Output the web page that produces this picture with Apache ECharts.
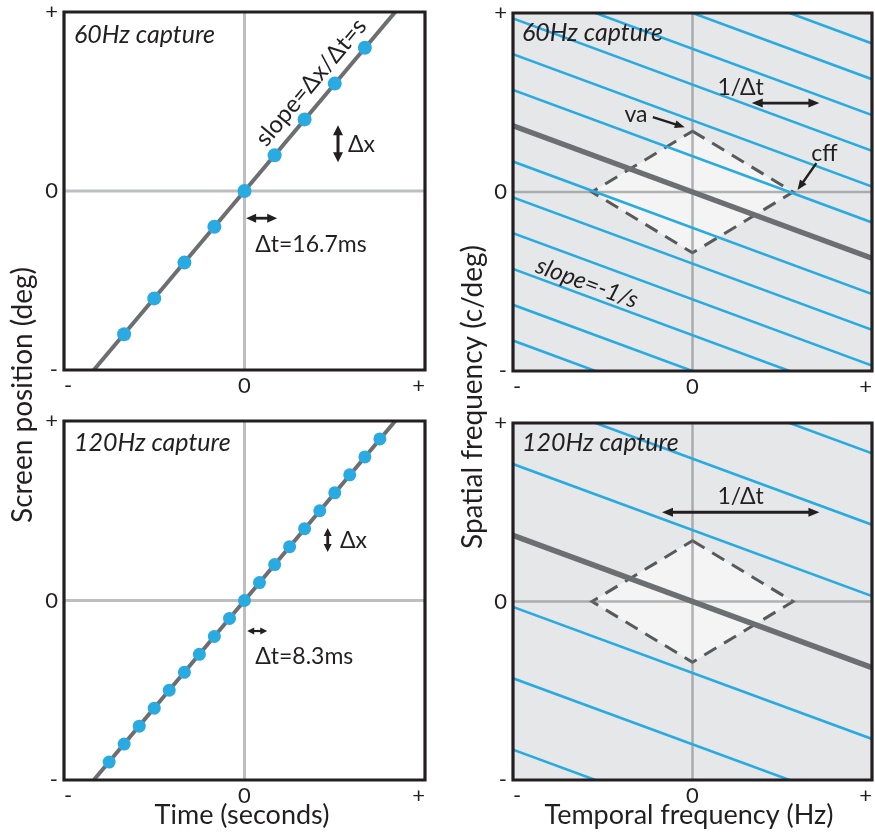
<!DOCTYPE html>
<html><head><meta charset="utf-8">
<script src="https://cdn.jsdelivr.net/npm/echarts@6/dist/echarts.min.js"></script>
<style>html,body{margin:0;padding:0;background:#fff}#c{width:875px;height:836px}</style>
</head><body><div id="c"></div>
<script>
// ---------------- data ----------------
const captureLabels = ['60Hz capture', '120Hz capture'];
const tickLabels = ['-', '0', '+'];
const tickValues = [-1, 0, 1];
// sampled positions of the moving object (normalised units)
const time60 = [-0.667, -0.5, -0.333, -0.167, 0, 0.167, 0.333, 0.5, 0.667];
const pos60  = [-0.8, -0.6, -0.4, -0.2, 0, 0.2, 0.4, 0.6, 0.8];
const time120 = [-0.75, -0.667, -0.583, -0.5, -0.417, -0.333, -0.25, -0.167, -0.083, 0,
                 0.083, 0.167, 0.25, 0.333, 0.417, 0.5, 0.583, 0.667, 0.75];
const pos120  = [-0.9, -0.8, -0.7, -0.6, -0.5, -0.4, -0.3, -0.2, -0.1, 0,
                 0.1, 0.2, 0.3, 0.4, 0.5, 0.6, 0.7, 0.8, 0.9];
// continuous motion trajectory
const motionTime = [-0.835, 0.835];
const motionPos  = [-1, 1];
// spectrum of the continuous motion
const signalTF = [-1, 1];
const signalSF = [0.37, -0.37];
const replicaSlope = -0.37;
// spatial-frequency intercepts (at 0 Hz) of aliased replicas
const replicas60  = [-1.2, -1.0, -0.8, -0.6, -0.4, -0.2, 0.2, 0.4, 0.6, 0.8, 1.0, 1.2];
const replicas120 = [-1.2, -0.8, -0.4, 0.4, 0.8, 1.2];
// window of visibility (diamond)
const windowTF = [0, 0.56, 0, -0.56];
const windowSF = [0.34, 0, -0.34, 0];

// ---------------- styling ----------------
const FONT = 'Lato, "Noto Sans", sans-serif';
const INK = '#231f20';
const BLUE = '#29abe2';
const DARK = '#6d6e71';

const grids = [
  {left: 64, top: 12, width: 361, height: 358},
  {left: 64, top: 421, width: 361, height: 359},
  {left: 513, top: 13, width: 360, height: 358, show: true, backgroundColor: '#e6e7e8', borderWidth: 0},
  {left: 513, top: 423, width: 360, height: 357, show: true, backgroundColor: '#e6e7e8', borderWidth: 0}
];

function fmt(v) { return tickLabels[tickValues.indexOf(Math.round(v))]; }
function axis(gi, isX) {
  return {
    type: 'value', gridIndex: gi, min: -1, max: 1, interval: 1,
    axisLine: {show: false}, axisTick: {show: false}, splitLine: {show: false},
    axisLabel: {formatter: fmt, fontSize: 22, color: INK, fontFamily: FONT, margin: isX ? 5 : 6,
      alignMinLabel: isX ? 'left' : undefined, alignMaxLabel: isX ? 'right' : undefined}
  };
}

function frameSeries(gi) {
  return {type: 'custom', xAxisIndex: gi, yAxisIndex: gi, z: 20, silent: true, data: [[0, 0]],
    renderItem: (p, api) => {
      const a = api.coord([-1, 1]), b = api.coord([1, -1]);
      return {type: 'rect', shape: {x: a[0], y: a[1], width: b[0] - a[0], height: b[1] - a[1]},
        style: {fill: 'none', stroke: INK, lineWidth: 3.2}};
    }};
}
function segSeries(gi, data, color, width, z) {
  return {type: 'line', xAxisIndex: gi, yAxisIndex: gi, data: data, z: z, silent: true,
    symbol: 'none', showSymbol: false, animation: false, clip: true,
    lineStyle: {color: color, width: width, cap: 'butt'}};
}
function zeroSeries(gi, color, width, z) {
  return [segSeries(gi, [[-1, 0], [1, 0]], color, width, z), segSeries(gi, [[0, -1], [0, 1]], color, width, z)];
}
function replicaSeries(gi, intercepts) {
  return {type: 'custom', xAxisIndex: gi, yAxisIndex: gi, z: 5, silent: true, clip: true,
    data: intercepts.map(b => [0, b]),
    renderItem: (p, api) => {
      const b = api.value(1);
      const p1 = api.coord([-1, b - replicaSlope]);
      const p2 = api.coord([1, b + replicaSlope]);
      return {type: 'line', shape: {x1: p1[0], y1: p1[1], x2: p2[0], y2: p2[1]},
        style: {stroke: BLUE, lineWidth: 2.6}};
    }};
}
function windowSeries(gi) {
  return {type: 'custom', xAxisIndex: gi, yAxisIndex: gi, z: 2, silent: true,
    data: [[windowTF[0], windowSF[0]]],
    renderItem: (p, api) => {
      const pts = windowTF.map((x, i) => api.coord([x, windowSF[i]]));
      return {type: 'group', children: [
        {type: 'polygon', shape: {points: pts}, style: {fill: '#f4f4f4'}},
        {type: 'polygon', shape: {points: pts}, style: {fill: 'none', stroke: '#58595b', lineWidth: 3, lineDash: [14, 9]}}
      ]};
    }};
}
function headPts(tip, from, L, W) {
  const dx = tip[0] - from[0], dy = tip[1] - from[1];
  const d = Math.hypot(dx, dy) || 1;
  const ux = dx / d, uy = dy / d, nx = -uy, ny = ux;
  const bx = tip[0] - ux * L, by = tip[1] - uy * L;
  return [tip, [bx + nx * W / 2, by + ny * W / 2], [bx - nx * W / 2, by - ny * W / 2]];
}
function annoSeries(gi, items) {
  return {type: 'custom', xAxisIndex: gi, yAxisIndex: gi, z: 30, silent: true, clip: false,
    data: items.map(it => [it.pos[0], it.pos[1]]),
    renderItem: (p, api) => {
      const it = items[p.dataIndex];
      if (it.kind === 'text') {
        const c = api.coord([api.value(0), api.value(1)]);
        return {type: 'text', x: c[0], y: c[1], rotation: (it.rot || 0) * Math.PI / 180,
          style: {text: it.text, fill: INK, fontFamily: FONT, fontSize: it.size || 23,
            fontStyle: it.italic ? 'italic' : 'normal', align: it.align || 'left', verticalAlign: 'middle'}};
      }
      const a = api.coord([it.pos[0], it.pos[1]]);
      const b = api.coord([it.pos[2], it.pos[3]]);
      const L = it.head || 9, W = it.headW || 8, lw = it.lw || 2.5;
      const children = [];
      const dx = b[0] - a[0], dy = b[1] - a[1], d = Math.hypot(dx, dy);
      const ux = dx / d, uy = dy / d;
      const s = it.both ? [a[0] + ux * L * 0.8, a[1] + uy * L * 0.8] : a;
      const e = [b[0] - ux * L * 0.8, b[1] - uy * L * 0.8];
      children.push({type: 'line', shape: {x1: s[0], y1: s[1], x2: e[0], y2: e[1]}, style: {stroke: INK, lineWidth: lw}});
      children.push({type: 'polygon', shape: {points: headPts(b, a, L, W)}, style: {fill: INK}});
      if (it.both) children.push({type: 'polygon', shape: {points: headPts(a, b, L, W)}, style: {fill: INK}});
      return {type: 'group', children: children};
    }};
}

const annoTL = [
  {kind: 'text', text: captureLabels[0], pos: [-0.945, 0.872], italic: true, size: 25},
  {kind: 'text', text: 'slope=Δx/Δt=s', pos: [0.369, 0.607], rot: 50, align: 'center', size: 24},
  {kind: 'arrow', pos: [0.518, 0.367, 0.518, 0.161], both: true, lw: 3, head: 10, headW: 10},
  {kind: 'text', text: 'Δx', pos: [0.573, 0.262], size: 23},
  {kind: 'arrow', pos: [0.009, -0.152, 0.181, -0.152], both: true, lw: 2.8, head: 10, headW: 9},
  {kind: 'text', text: 'Δt=16.7ms', pos: [0.059, -0.302], size: 23}
];
const annoBL = [
  {kind: 'text', text: captureLabels[1], pos: [-0.945, 0.877], italic: true, size: 25},
  {kind: 'arrow', pos: [0.461, 0.404, 0.461, 0.27], both: true, lw: 2.8, head: 8, headW: 8},
  {kind: 'text', text: 'Δx', pos: [0.529, 0.332], size: 23},
  {kind: 'arrow', pos: [0.015, -0.17, 0.126, -0.17], both: true, lw: 2.2, head: 7, headW: 7},
  {kind: 'text', text: 'Δt=8.3ms', pos: [0.059, -0.315], size: 23}
];
const annoTR = [
  {kind: 'text', text: captureLabels[0], pos: [-0.95, 0.887], italic: true, size: 25},
  {kind: 'text', text: '1/Δt', pos: [0.268, 0.586], align: 'center', size: 23},
  {kind: 'arrow', pos: [0.33, 0.497, 0.707, 0.497], both: true, lw: 2.8, head: 11, headW: 9},
  {kind: 'text', text: 'va', pos: [-0.315, 0.43], align: 'center', size: 23},
  {kind: 'arrow', pos: [-0.221, 0.418, -0.043, 0.362], lw: 2.4, head: 10, headW: 8},
  {kind: 'text', text: 'cff', pos: [0.735, 0.217], align: 'center', size: 23},
  {kind: 'arrow', pos: [0.69, 0.161, 0.585, 0.011], lw: 2.4, head: 10, headW: 8},
  {kind: 'text', text: 'slope=-1/s', pos: [-0.587, -0.509], rot: -20, align: 'center', italic: true, size: 24}
];
const annoBR = [
  {kind: 'text', text: captureLabels[1], pos: [-0.95, 0.887], italic: true, size: 25},
  {kind: 'text', text: '1/Δt', pos: [0.268, 0.585], align: 'center', size: 23},
  {kind: 'arrow', pos: [-0.17, 0.5, 0.707, 0.5], both: true, lw: 2.8, head: 11, headW: 9}
];

function zip(a, b) { return a.map((v, i) => [v, b[i]]); }

const series = [];
// left: time domain
[[0, time60, pos60, 14, annoTL], [1, time120, pos120, 13, annoBL]].forEach(([gi, t, x, sz, an]) => {
  series.push(...zeroSeries(gi, '#bcbec0', 3, 1));
  series.push(segSeries(gi, zip(motionTime, motionPos), DARK, 4, 3));
  series.push({type: 'scatter', xAxisIndex: gi, yAxisIndex: gi, data: zip(t, x), z: 4, silent: true,
    symbol: 'circle', symbolSize: sz, itemStyle: {color: BLUE, opacity: 1}});
  series.push(annoSeries(gi, an));
  series.push(frameSeries(gi));
});
// right: frequency domain
[[2, replicas60, annoTR], [3, replicas120, annoBR]].forEach(([gi, reps, an]) => {
  series.push(windowSeries(gi));
  series.push(...zeroSeries(gi, 'rgba(110,112,115,0.5)', 2.5, 3));
  series.push(replicaSeries(gi, reps));
  series.push(segSeries(gi, zip(signalTF, signalSF), DARK, 5.5, 6));
  series.push(annoSeries(gi, an));
  series.push(frameSeries(gi));
});

const titleStyle = {fill: INK, fontFamily: FONT, fontSize: 27, align: 'center', verticalAlign: 'middle'};
const option = {
  animation: false,
  backgroundColor: '#ffffff',
  grid: grids,
  xAxis: [0, 1, 2, 3].map(i => axis(i, true)),
  yAxis: [0, 1, 2, 3].map(i => axis(i, false)),
  series: series,
  graphic: [
    {type: 'text', x: 23, y: 395, rotation: Math.PI / 2, style: Object.assign({text: 'Screen position (deg)'}, titleStyle, {fontSize: 28})},
    {type: 'text', x: 473, y: 397, rotation: Math.PI / 2, style: Object.assign({text: 'Spatial frequency (c/deg)'}, titleStyle, {fontSize: 28})},
    {type: 'text', x: 242, y: 815, style: Object.assign({text: 'Time (seconds)'}, titleStyle)},
    {type: 'text', x: 689, y: 815, style: Object.assign({text: 'Temporal frequency (Hz)'}, titleStyle)}
  ]
};
const chart = echarts.init(document.getElementById('c'));
chart.setOption(option);
</script></body></html>
